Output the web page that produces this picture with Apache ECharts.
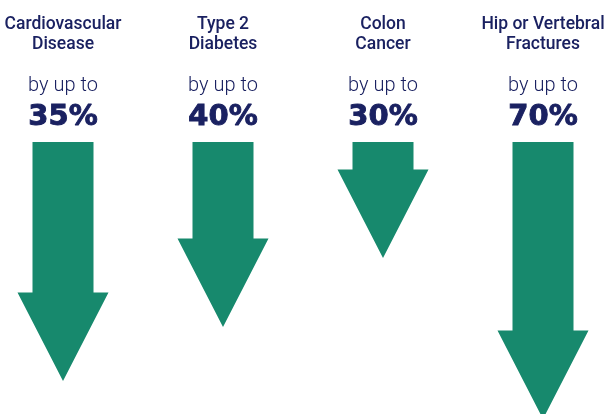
<!DOCTYPE html>
<html>
<head>
<meta charset="utf-8">
<script src="https://cdn.jsdelivr.net/npm/echarts@6/dist/echarts.min.js"></script>
<style>html,body{margin:0;padding:0;background:#fff}#c{width:606px;height:414px}</style>
</head>
<body>
<div id="c"></div>
<script>
const categories = ['Cardiovascular\nDisease', 'Type 2\nDiabetes', 'Colon\nCancer', 'Hip or Vertebral\nFractures'];
const reductionPct = [35, 40, 30, 70];
const leadText = ['by up to', 'by up to', 'by up to', 'by up to'];
const arrowDepth = [239, 185, 116, 277];

const NAVY = '#1a2161';
const GREEN = '#17896d';

const chart = echarts.init(document.getElementById('c'), null, {renderer: 'canvas'});
chart.setOption({
  animation: false,
  grid: {left: 63, right: 63, top: 142, bottom: 0},
  xAxis: {type: 'category', data: categories, boundaryGap: false, show: false},
  yAxis: {type: 'value', inverse: true, min: 0, max: 272, show: false},
  series: [{
    type: 'custom',
    data: arrowDepth.map((d, i) => [i, d, reductionPct[i]]),
    clip: false,
    renderItem: function (params, api) {
      const i = api.value(0);
      const top = api.coord([i, 0]);
      const tip = api.coord([i, api.value(1)]);
      const cx = top[0];
      const shaftHalf = 30.5, headHalf = 45.5, headH = 88.5;
      const headY = tip[1] - headH;
      return {
        type: 'group',
        children: [
          {
            type: 'polygon',
            shape: {points: [
              [cx - shaftHalf, top[1]], [cx + shaftHalf, top[1]],
              [cx + shaftHalf, headY], [cx + headHalf, headY],
              [cx, tip[1]], [cx - headHalf, headY],
              [cx - shaftHalf, headY]
            ]},
            style: {fill: GREEN}
          },
          {
            type: 'text',
            style: {
              text: categories[i], x: cx, y: 34.5, align: 'center', verticalAlign: 'middle',
              font: '500 17.5px Roboto', lineHeight: 20.5, fill: NAVY
            }
          },
          {
            type: 'text',
            style: {
              text: leadText[i], x: cx, y: 86, align: 'center', verticalAlign: 'middle',
              font: '300 20px Roboto', fill: NAVY
            }
          },
          {
            type: 'text',
            style: {
              text: api.value(2) + '%', x: cx, y: 117.5, align: 'center', verticalAlign: 'middle',
              font: 'bold 29px "DejaVu Sans"', fill: NAVY, stroke: NAVY, lineWidth: 0.9
            }
          }
        ]
      };
    }
  }]
});
</script>
</body>
</html>
